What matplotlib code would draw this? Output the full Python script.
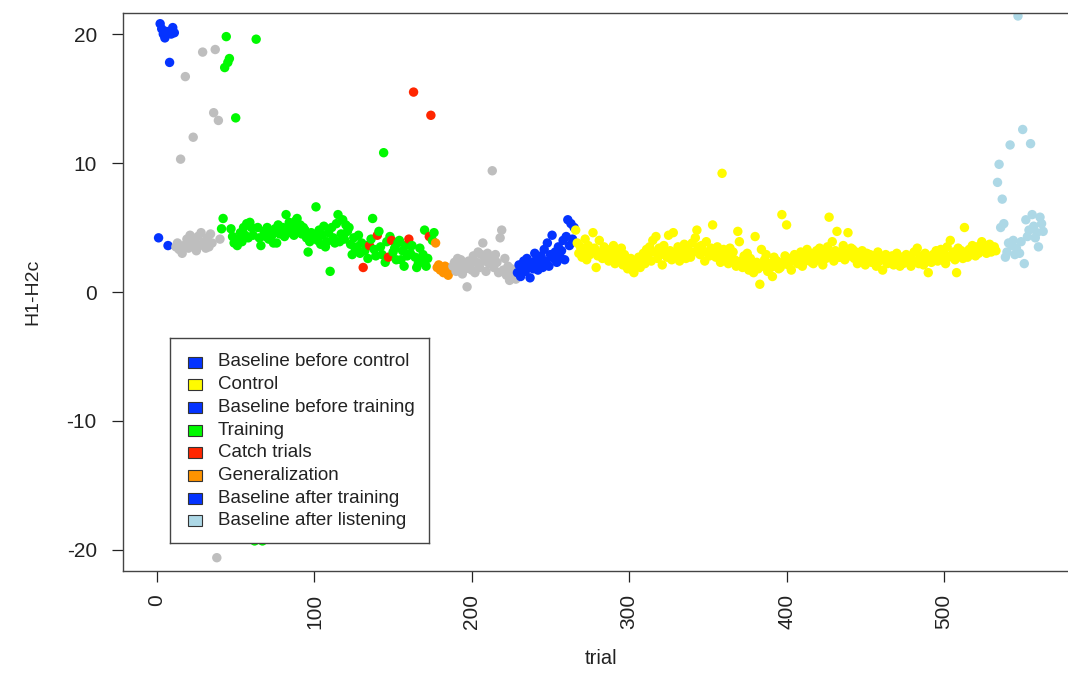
import numpy as np
import matplotlib
matplotlib.use("Agg")
import matplotlib.pyplot as plt
from matplotlib.patches import Rectangle

plt.rcParams['font.family'] = ['Liberation Sans', 'DejaVu Sans']
plt.rcParams['axes.unicode_minus'] = False

# H1-H2c per trial, block by block (trials are numbered consecutively from 1)
baseline_before_control = [4.2, 20.8, 20.4, 20.0, 19.7, 20.2, 3.6, 17.8, 20.0, 20.5, 20.1]

rest_1 = [3.5, 3.8, 3.3, 10.3, 3.0, 3.6, 16.7, 4.1, 3.4, 4.4,
          3.7, 12.0, 4.0, 3.2, 4.3, 3.6, 4.6, 18.6, 3.9, 3.4,
          4.2, 3.5, 4.5, 3.8, 13.9, 18.8, -20.6, 13.3, 4.1]

training = [4.9, 5.7, 17.4, 19.8, 17.8, 18.1, 4.9, 4.3, 3.8, 13.5,
            3.6, 4.1, 4.6, 3.9, 5.0, 4.4, 5.3, 4.2, 5.4, 5.0,
            4.4, -19.3, 19.6, 5.0, 4.2, 3.6, -19.3, 4.7, 4.3, 5.0,
            4.1, 4.6, 4.4, 3.8, 4.9, 3.8, 5.2, 4.5, 4.8, 5.0,
            4.3, 6.0, 4.9, 5.4, 4.6, 5.1, 4.4, 5.5, 5.7, 4.8,
            5.2, 4.5, 5.0, 4.8, 4.2, 3.1, 3.9, 4.6, 4.3, 4.3,
            6.6, 4.0, 4.8, 3.7, 4.4, 5.1, 3.5, 3.9, 4.6, 1.6,
            5.0, 4.2, 3.8, 5.3, 6.0, 3.9, 4.5, 5.6, 4.1, 5.2,
            4.7, 5.0, 3.7, 2.9, 4.2, 3.3, 3.5, 4.4, 3.0, 3.8,
            1.9, 3.2, 3.6, 2.6, 3.6, 4.1, 5.7, 3.3, 2.8, 4.4,
            4.7, 3.5, 2.9, 10.8, 2.3, 3.9, 2.7, 4.3, 4.0, 3.1,
            3.4, 2.5, 3.8, 4.0, 2.5, 3.2, 2.0, 3.6, 2.8, 4.1,
            3.0, 3.6, 15.5, 2.7, 1.9, 2.2, 3.4, 2.4, 2.9, 4.8,
            2.0, 2.6, 4.3, 13.7, 4.0, 4.6]

# trial numbers inside the training block that were catch trials
catch_trials = [131, 135, 140, 147, 149, 160, 163, 173, 174]

generalization = [3.8, 1.9, 2.1, 1.7, 1.9, 1.5, 2.0, 1.6, 1.3, 1.8, 1.7]

rest_2 = [2.0, 2.3, 1.6, 2.6, 1.9, 2.5, 1.4, 2.2, 1.8, 0.4,
          2.4, 2.1, 1.7, 2.8, 1.5, 2.3, 3.1, 1.9, 2.9, 3.8,
          2.4, 1.6, 3.0, 2.2, 2.7, 9.4, 1.9, 2.9, 2.3, 1.5,
          4.2, 4.8, 1.7, 2.6, 1.3, 2.0, 0.9, 1.8, 1.2, 1.5, 1.0]

baseline_after_training = [1.5, 2.1, 1.2, 1.9, 2.4, 1.6, 2.6, 2.0, 1.1, 2.3,
                           1.8, 3.0, 2.5, 1.7, 2.2, 2.8, 1.9, 3.3, 2.4, 3.8,
                           2.0, 2.9, 4.4, 2.6, 3.1, 2.3, 3.5, 2.7, 3.2, 4.0,
                           2.5, 4.3, 5.6, 3.6, 5.3, 4.1, 5.0]

control = [4.8, 3.8, 3.0, 3.5, 2.7, 3.2, 4.1, 2.5, 3.6, 2.9,
           3.3, 4.6, 3.4, 1.9, 2.8, 4.0, 3.1, 2.6, 3.5, 2.9,
           3.0, 2.4, 3.3, 2.7, 3.6, 2.2, 3.1, 2.8, 2.5, 3.4,
           2.1, 2.9, 2.4, 1.8, 2.2, 2.6, 1.7, 1.5, 2.3, 2.0,
           2.7, 1.9, 2.5, 3.0, 2.2, 3.3, 2.8, 3.5, 2.4, 4.0,
           3.1, 4.3, 2.6, 3.4, 2.9, 2.1, 3.6, 3.0, 2.7, 4.4,
           3.2, 2.5, 4.6, 3.0, 2.8, 3.5, 2.4, 3.3, 2.9, 3.7,
           2.6, 3.4, 3.0, 2.7, 3.8, 3.1, 4.2, 4.8, 3.5, 2.9,
           3.6, 3.2, 2.4, 3.9, 3.0, 2.8, 3.4, 5.2, 3.1, 2.7,
           3.5, 2.9, 2.3, 9.2, 3.3, 2.6, 3.0, 2.2, 3.4, 2.7,
           3.1, 2.5, 2.0, 4.7, 3.9, 2.4, 1.9, 2.8, 2.2, 3.0,
           1.7, 2.6, 2.1, 1.5, 4.3, 2.3, 1.8, 0.6, 3.3, 2.0,
           2.5, 2.9, 1.6, 2.2, 1.9, 1.2, 2.7, 2.0, 2.4, 1.8,
           1.9, 6.0, 2.3, 2.8, 5.2, 2.1, 2.6, 1.7, 2.4, 2.9,
           2.5, 2.2, 2.8, 3.1, 2.0, 2.7, 2.4, 3.3, 2.6, 3.0,
           2.3, 2.2, 2.9, 3.2, 2.5, 3.4, 2.8, 2.1, 3.0, 2.6,
           3.5, 5.8, 2.9, 3.9, 2.4, 3.2, 4.7, 2.7, 2.7, 3.1,
           3.6, 2.5, 3.0, 4.6, 2.8, 3.4, 3.3, 2.6, 3.1, 2.2,
           2.9, 2.4, 3.2, 2.7, 2.1, 3.0, 2.5, 2.9, 2.3, 2.8,
           2.6, 2.0, 3.1, 2.4, 2.7, 1.7, 2.5, 2.9, 2.2, 2.6,
           2.3, 2.8, 2.1, 2.5, 3.0, 2.4, 2.0, 2.7, 2.2, 2.6,
           2.9, 2.3, 2.7, 2.0, 2.5, 3.1, 2.4, 3.4, 2.2, 2.8,
           2.6, 2.1, 3.0, 2.4, 1.5, 2.7, 2.3, 2.9, 2.5, 3.2,
           2.4, 2.8, 3.3, 2.6, 3.0, 2.2, 3.5, 2.7, 4.0, 2.9,
           3.1, 2.5, 1.5, 3.4, 2.8, 3.2, 2.6, 5.0, 3.0, 2.7,
           3.3, 2.9, 3.6, 3.1, 2.8, 3.5, 3.0, 3.4, 3.9, 3.2,
           3.6, 3.0, 3.3, 3.7, 3.1, 3.4, 3.5, 3.2]

baseline_after_listening = [8.5, 9.9, 5.0, 7.2, 5.3, 2.7, 3.1, 3.8, 11.4, 3.6,
                            4.0, 2.9, 3.4, 21.4, 3.0, 3.9, 12.6, 2.2, 5.6, 4.3,
                            4.8, 11.5, 6.0, 5.1, 4.2, 4.6, 3.5, 5.8, 5.3, 4.7]

# plotting colour of each block (rest blocks are not in the legend)
blocks = [
    (baseline_before_control, "#0433FF"),
    (rest_1, "#BEBEBE"),
    (training, "#00F900"),
    (generalization, "#FF9300"),
    (rest_2, "#BEBEBE"),
    (baseline_after_training, "#0433FF"),
    (control, "#FFFB00"),
    (baseline_after_listening, "#ADD8E6"),
]
catch_colour = "#FF2600"

legend_labels = ["Baseline before control", "Control", "Baseline before training",
                 "Training", "Catch trials", "Generalization",
                 "Baseline after training", "Baseline after listening"]
legend_colours = ["#0433FF", "#FFFB00", "#0433FF", "#00F900",
                  "#FF2600", "#FF9300", "#0433FF", "#ADD8E6"]

values = np.concatenate([np.asarray(v, dtype=float) for v, _ in blocks])
colours = np.concatenate([[c] * len(v) for v, c in blocks]).astype(object)
trials = np.arange(1, len(values) + 1)
colours[np.isin(trials, catch_trials)] = catch_colour

# ---- figure layout (pixel based) ----
W, H = 1068, 685
fig = plt.figure(figsize=(W / 100, H / 100), dpi=100)

span = trials.max() - trials.min()
xlim = (trials.min() - 0.04 * span, trials.max() + 0.04 * span)
ylim = (-20 - 0.04 * 40, 20 + 0.04 * 40)

px_x0, px_x500 = 157.0, 944.0          # where trial 0 and 500 fall
ppu = (px_x500 - px_x0) / 500.0
ax_left = px_x0 + ppu * xlim[0]
ax_right = px_x0 + ppu * xlim[1]
ax_top, ax_bottom = 13.4, 570.6

ax = fig.add_axes([ax_left / W, 1 - ax_bottom / H,
                   (ax_right - ax_left) / W, (ax_bottom - ax_top) / H])
ax.scatter(trials, values, c=list(colours), s=46, linewidths=0, zorder=2)
ax.set_xlim(*xlim)
ax.set_ylim(*ylim)

ax.set_xticks(np.arange(0, 501, 100))
ax.set_yticks(np.arange(-20, 21, 10))
ax.tick_params(axis='both', direction='out', length=8, width=0.9,
               labelsize=15, colors='#222222')
ax.tick_params(axis='x', labelrotation=90, pad=9)
ax.tick_params(axis='y', pad=11)
for s in ax.spines.values():
    s.set_linewidth(1.0)
    s.set_color('#444444')

ax.set_xlabel("trial", fontsize=14.5, labelpad=14, color='#222222')
ax.set_ylabel("H1-H2c", fontsize=14, labelpad=18, color='#222222')

# ---- legend box ----
lx0, ly0, lx1, ly1 = 170, 338, 429, 543
lax = fig.add_axes([lx0 / W, 1 - ly1 / H, (lx1 - lx0) / W, (ly1 - ly0) / H])
lax.set_xlim(0, lx1 - lx0)
lax.set_ylim(ly1 - ly0, 0)
lax.set_xticks([])
lax.set_yticks([])
for s in lax.spines.values():
    s.set_linewidth(1.0)
    s.set_color('#444444')
row0, row_step = 362 - ly0, 22.7
for i, (lab, col) in enumerate(zip(legend_labels, legend_colours)):
    yc = row0 + i * row_step
    lax.add_patch(Rectangle((18, yc - 5.5), 14, 11, facecolor=col,
                            edgecolor='#333333', linewidth=0.8))
    lax.text(48, yc, lab, fontsize=13.5, va='center', ha='left', color='#222222')

fig.savefig("out.png", dpi=100)
